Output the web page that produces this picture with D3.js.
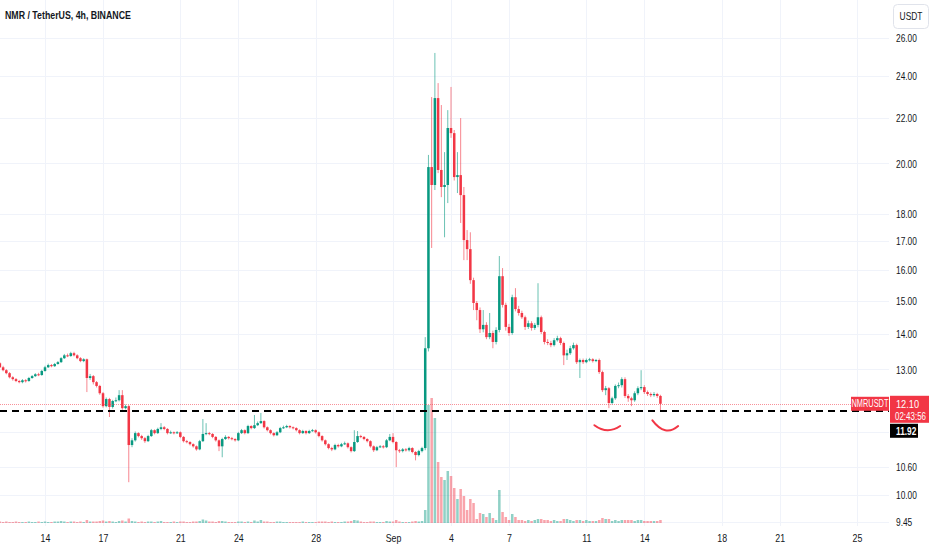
<!DOCTYPE html>
<html>
<head>
<meta charset="utf-8">
<script src="https://cdn.jsdelivr.net/npm/d3@7"></script>
<style>
  body { margin: 0; background: #ffffff; }
  svg { display: block; }
  text { font-family: "Liberation Sans", Arial, sans-serif; fill: #131722; }
</style>
</head>
<body>
<svg id="chart" width="932" height="550"></svg>
<script>
// ---------------- DATA ----------------
const title = "NMR / TetherUS, 4h, BINANCE";
const firstCandleUTC = [2022, 7, 11, 16];   // Aug 11, 16:00 — 4h candles
const firstOpen = 13.17;

const closes = [
  13.06,12.98,12.90,12.79,12.74,12.69,12.66,12.71,12.69,12.77,
  12.82,12.87,12.85,12.96,13.06,13.12,13.09,13.15,13.20,13.31,
  13.39,13.37,13.45,13.39,13.31,13.23,13.28,12.77,12.82,12.66,
  12.56,12.37,12.04,12.22,12.02,12.17,12.19,12.32,11.99,12.04,
  11.10,11.21,11.38,11.31,11.26,11.19,11.31,11.45,11.38,11.48,
  11.52,11.48,11.38,11.40,11.38,11.40,11.29,11.19,11.17,11.12,
  11.07,11.00,11.19,11.36,11.38,11.36,11.29,11.21,11.07,11.24,
  11.29,11.26,11.24,11.21,11.38,11.45,11.38,11.55,11.50,11.57,
  11.62,11.67,11.52,11.45,11.38,11.33,11.40,11.50,11.52,11.55,
  11.52,11.50,11.45,11.38,11.43,11.38,11.43,11.45,11.40,11.31,
  11.21,11.12,11.03,11.00,11.10,11.07,11.12,11.14,11.05,10.96,
  11.17,11.31,11.29,11.24,11.19,11.07,10.98,11.05,11.07,11.05,
  11.21,11.29,11.17,10.98,10.96,11.00,10.98,11.03,10.94,10.87,
  10.96,11.03,13.59,19.85,19.12,22.93,19.73,19.04,19.12,21.54,
  21.31,19.44,19.52,18.72,17.04,16.72,15.67,14.94,14.72,14.14,
  14.27,13.91,14.03,13.77,14.12,15.80,14.88,14.21,14.03,15.12,
  14.75,14.63,14.50,14.21,14.32,14.18,14.27,14.50,14.06,13.77,
  13.74,13.68,13.82,13.88,13.74,13.39,13.45,13.59,13.68,13.20,
  13.26,13.20,13.26,13.28,13.23,13.26,12.93,12.45,12.50,12.12,
  12.24,12.56,12.58,12.74,12.30,12.24,12.19,12.37,12.50,12.53,
  12.40,12.35,12.32,12.35,12.30,12.10
];
const highs = [
  13.20,13.10,13.01,12.93,12.82,12.77,12.72,12.74,12.74,12.80,
  12.85,12.90,12.91,12.99,13.10,13.16,13.15,13.18,13.23,13.34,
  13.43,13.44,13.49,13.49,13.42,13.34,13.31,13.30,12.88,12.85,
  12.69,12.59,12.40,12.26,12.25,12.20,12.26,12.45,12.45,12.08,
  12.07,11.26,11.42,11.40,11.34,11.29,11.34,11.48,11.47,11.51,
  11.62,11.55,11.50,11.44,11.42,11.43,11.42,11.31,11.22,11.19,
  11.14,11.09,11.22,11.72,11.62,11.41,11.38,11.31,11.23,11.27,
  11.33,11.31,11.29,11.26,11.41,11.48,11.47,11.58,11.57,11.82,
  11.66,11.87,11.69,11.54,11.47,11.40,11.43,11.53,11.56,11.58,
  11.57,11.54,11.52,11.47,11.46,11.45,11.46,11.48,11.47,11.42,
  11.33,11.23,11.14,11.06,11.13,11.13,11.15,11.18,11.16,11.07,
  11.45,11.43,11.34,11.31,11.26,11.21,11.09,11.08,11.10,11.10,
  11.24,11.36,11.38,11.19,11.01,11.03,11.03,11.06,11.05,10.96,
  10.99,11.06,13.91,20.36,22.98,25.20,23.66,22.60,20.48,22.36,
  23.47,21.45,20.48,21.99,19.04,17.40,17.32,15.75,15.00,14.80,
  14.72,14.35,14.63,14.10,14.20,16.48,16.07,14.95,14.30,15.20,
  15.41,14.85,14.70,14.55,14.40,14.38,14.33,15.57,14.55,14.10,
  13.85,13.80,13.88,13.95,13.92,13.78,13.55,13.66,13.75,13.72,
  13.30,13.30,13.30,13.32,13.31,13.29,13.30,12.97,12.56,12.53,
  12.28,12.60,12.65,12.79,12.79,12.35,12.28,12.42,12.55,12.98,
  12.58,12.44,12.39,12.40,12.38,12.33
];
const lows = [
  13.04,12.95,12.87,12.76,12.70,12.66,12.63,12.63,12.65,12.67,
  12.75,12.80,12.82,12.83,12.94,13.04,13.06,13.07,13.13,13.18,
  13.29,13.34,13.35,13.36,13.28,13.20,13.20,12.40,12.72,12.60,
  12.52,12.33,12.00,12.01,11.77,11.98,12.14,12.16,11.95,11.96,
  10.27,11.05,11.18,11.28,11.22,11.15,11.17,11.29,11.35,11.36,
  11.45,11.45,11.35,11.36,11.35,11.36,11.26,11.16,11.14,11.09,
  11.04,10.97,10.98,11.17,11.33,11.33,11.26,11.18,10.96,10.82,
  11.22,11.23,11.21,11.18,11.19,11.36,11.35,11.36,11.47,11.48,
  11.55,11.60,11.49,11.42,11.35,11.30,11.31,11.38,11.48,11.50,
  11.49,11.47,11.42,11.35,11.36,11.35,11.36,11.41,11.37,11.28,
  11.18,11.09,11.00,10.96,10.98,11.04,11.05,11.10,11.02,10.93,
  10.94,11.15,11.26,11.21,11.16,11.04,10.94,10.96,11.03,11.02,
  11.03,11.19,11.14,10.60,10.92,10.93,10.95,10.95,10.91,10.75,
  10.84,10.93,10.98,13.50,16.76,18.92,19.60,18.64,17.14,18.41,
  21.10,19.30,18.80,17.66,16.34,16.34,15.55,14.72,14.41,14.03,
  14.05,13.85,13.85,13.59,13.70,14.05,14.80,14.10,13.95,13.98,
  14.68,14.55,14.45,14.12,14.15,14.10,14.12,14.20,14.00,13.70,
  13.68,13.62,13.64,13.78,13.68,13.12,13.26,13.40,13.55,13.15,
  12.77,13.15,13.17,13.22,13.19,13.20,12.88,12.40,12.32,11.99,
  12.08,12.20,12.50,12.52,12.25,12.15,12.04,12.15,12.32,12.45,
  12.35,12.30,12.27,12.28,12.25,11.94
];
// volume, thousands NMR
const volumes = [
  3,2,3,2,2,3,2,2,2,3,
  2,2,3,2,3,2,2,3,3,4,
  3,2,3,3,2,3,2,6,3,3,
  3,4,5,3,4,3,2,4,5,3,
  9,4,3,2,3,2,3,3,2,3,
  4,2,2,2,3,2,3,3,2,2,
  3,3,4,7,5,3,3,2,4,4,
  3,2,2,2,3,3,2,3,2,5,
  3,6,3,3,2,2,3,3,2,2,
  2,2,2,2,3,2,2,2,2,3,
  3,3,2,3,2,2,2,3,3,4,
  6,5,3,2,2,3,3,2,2,2,
  4,3,3,6,3,2,2,2,3,4,
  3,4,26,236,250,210,122,92,86,104,
  94,70,48,68,54,26,48,40,8,20,
  18,12,20,10,6,66,22,12,6,18,
  12,6,6,4,6,4,6,8,8,6,
  6,4,6,4,4,8,8,6,4,6,
  6,4,6,4,4,4,6,10,8,8,
  4,6,4,6,6,6,6,4,6,6,
  4,4,4,4,4,6
];

const priceTicks      = [26, 24, 22, 20, 18, 17, 16, 15, 14, 13, 11.4, 10.6, 10, 9.45];
const priceTickLabels = ["26.00","24.00","22.00","20.00","18.00","17.00","16.00","15.00","14.00","13.00","","10.60","10.00","9.45"];
const timeTicks       = ["2022-08-14","2022-08-17","2022-08-21","2022-08-24","2022-08-28","2022-09-01","2022-09-04","2022-09-07","2022-09-11","2022-09-14","2022-09-18","2022-09-21","2022-09-25"];
const timeTickLabels  = ["14","17","21","24","28","Sep","4","7","11","14","18","21","25"];

const symbolLabel = "NMRUSDT";
const lastPrice = 12.10;
const countdown = "02:43:56";
const horizontalLinePrice = 11.92;
const currencyLabel = "USDT";
// hand-drawn "smile" annotations: [start time, end time] and [start price, bottom price, end price]
const arcTimes  = [["2022-09-11T10:00","2022-09-12T18:00"], ["2022-09-14T10:00","2022-09-15T18:00"]];
const arcPrices = [[11.57, 11.45, 11.55], [11.69, 11.45, 11.55]];

// ---------------- CHART ----------------
const UP = "#089981", DOWN = "#f23645";
const SX = 0.8;                 // horizontal condensing of the chart's narrow type
const plotRight = 889, plotBottom = 526;
const svg = d3.select("#chart");

const parseDay = d3.utcParse("%Y-%m-%d");
const parseDT = d3.utcParse("%Y-%m-%dT%H:%M");
const x = d3.scaleUtc().domain([parseDay("2022-08-14"), parseDay("2022-09-25")]).range([45, 857]);
const y = d3.scaleLog().domain([9.45, 26]).range([522, 38]);
const v = d3.scaleLinear().domain([0, 250]).range([523, 398]);

const t0 = Date.UTC(...firstCandleUTC);
const candles = closes.map((c, i) => ({
  t: new Date(t0 + i * 4 * 3600 * 1000),
  o: i === 0 ? firstOpen : closes[i - 1],
  h: highs[i], l: lows[i], c, vol: volumes[i]
}));
const step = x(candles[1].t) - x(candles[0].t);
const bodyW = step * 0.78;

// condensed text helper
function label(g, tx, ty, str, size, opts = {}) {
  return g.append("text")
    .attr("transform", `translate(${tx},${ty}) scale(${opts.sx || SX},1)`)
    .attr("text-anchor", opts.anchor || "start")
    .style("font-size", size + "px")
    .style("font-weight", opts.weight || "normal")
    .style("fill", opts.fill || "#131722")
    .text(str);
}

// grid
const grid = svg.append("g");
grid.selectAll("line.h").data(priceTicks).join("line").attr("class","h")
  .attr("x1", 0).attr("x2", plotRight)
  .attr("y1", d => Math.round(y(d)) + 0.5).attr("y2", d => Math.round(y(d)) + 0.5)
  .attr("stroke", "#f0f3fa").attr("stroke-width", 1);
grid.selectAll("line.v").data(timeTicks).join("line").attr("class","v")
  .attr("x1", d => Math.round(x(parseDay(d))) + 0.5).attr("x2", d => Math.round(x(parseDay(d))) + 0.5)
  .attr("y1", 0).attr("y2", plotBottom)
  .attr("stroke", "#f0f3fa").attr("stroke-width", 1);

// volume
svg.append("g").selectAll("rect").data(candles).join("rect")
  .attr("x", d => x(d.t) - bodyW / 2).attr("width", bodyW)
  .attr("y", d => v(d.vol)).attr("height", d => Math.max(1, v(0) - v(d.vol)))
  .attr("fill", d => d.c >= d.o ? UP : DOWN).attr("fill-opacity", 0.45);

// candles
const cg = svg.append("g").selectAll("g").data(candles).join("g");
cg.append("line")
  .attr("x1", d => x(d.t)).attr("x2", d => x(d.t))
  .attr("y1", d => y(d.h)).attr("y2", d => y(d.l))
  .attr("stroke", d => d.c >= d.o ? UP : DOWN).attr("stroke-width", 1).attr("stroke-opacity", 0.6);
cg.append("rect")
  .attr("x", d => x(d.t) - bodyW / 2).attr("width", bodyW)
  .attr("y", d => y(Math.max(d.o, d.c)))
  .attr("height", d => Math.max(1, Math.abs(y(d.o) - y(d.c))))
  .attr("fill", d => d.c >= d.o ? UP : DOWN);

// current price line
svg.append("line")
  .attr("x1", 0).attr("x2", plotRight)
  .attr("y1", Math.round(y(lastPrice)) + 0.5).attr("y2", Math.round(y(lastPrice)) + 0.5)
  .attr("stroke", DOWN).attr("stroke-opacity", 0.55).attr("stroke-dasharray", "1 1");

// user horizontal dashed line
svg.append("line")
  .attr("x1", 0).attr("x2", plotRight)
  .attr("y1", y(horizontalLinePrice)).attr("y2", y(horizontalLinePrice))
  .attr("stroke", "#000").attr("stroke-width", 2).attr("stroke-dasharray", "7 5");

// smile annotations
svg.append("g").selectAll("path").data(arcTimes).join("path")
  .attr("d", (d, i) => {
    const x0 = x(parseDT(d[0])), x1 = x(parseDT(d[1]));
    const [p0, pm, p1] = arcPrices[i];
    const y0 = y(p0), ym = y(pm), y1 = y(p1);
    const cy = 2 * ym - (y0 + y1) / 2;
    return `M${x0},${y0} Q${(x0 + x1) / 2},${cy} ${x1},${y1}`;
  })
  .attr("fill", "none").attr("stroke", DOWN).attr("stroke-width", 2).attr("stroke-linecap", "round");

// axes
const yAxis = svg.append("g").attr("transform", `translate(${plotRight},0)`)
  .call(d3.axisRight(y).tickValues(priceTicks).tickFormat((d, i) => priceTickLabels[i]).tickSize(0).tickPadding(7));
yAxis.select(".domain").remove();
yAxis.selectAll("text").attr("x", 7 / 0.76).attr("transform", "scale(0.76,1)")
  .style("font-size", "11px").style("fill", "#131722");

const xAxis = svg.append("g").attr("transform", `translate(0,${plotBottom})`)
  .call(d3.axisBottom(x).tickValues(timeTicks.map(parseDay)).tickFormat((d, i) => timeTickLabels[i]).tickSize(0).tickPadding(8));
xAxis.select(".domain").remove();
xAxis.selectAll("text").attr("transform", `scale(${SX},1)`)
  .style("font-size", "11px").style("fill", "#131722");

// title
label(svg, 5, 19, title, 11, { weight: "bold" });

// currency button
svg.append("rect").attr("x", 893.5).attr("y", 4.5).attr("width", 35).attr("height", 24).attr("rx", 4)
  .attr("fill", "#fff").attr("stroke", "#e0e3eb");
label(svg, 911, 20, currencyLabel, 10.5, { anchor: "middle" });

// last price labels
const yl = y(lastPrice);
svg.append("rect").attr("x", 851).attr("y", yl - 7).attr("width", 38).attr("height", 14).attr("fill", DOWN);
label(svg, 870, yl + 3.5, symbolLabel, 10, { anchor: "middle", fill: "#fff", sx: 0.74 });
svg.append("rect").attr("x", 890).attr("y", yl - 8).attr("width", 39).attr("height", 27).attr("fill", DOWN);
label(svg, 896, yl + 4, lastPrice.toFixed(2), 11.5, { fill: "#fff" });
label(svg, 895, yl + 16, countdown, 10.5, { fill: "#fff", sx: 0.76 });

// horizontal line price label (pushed below the last-price label)
const yh = Math.max(y(horizontalLinePrice), yl + 19 + 8);
svg.append("rect").attr("x", 890).attr("y", yh - 7).attr("width", 28).attr("height", 14).attr("fill", "#000");
label(svg, 896, yh + 4, horizontalLinePrice.toFixed(2), 11.5, { fill: "#fff", weight: "bold", sx: 0.72 });
</script>
</body>
</html>
